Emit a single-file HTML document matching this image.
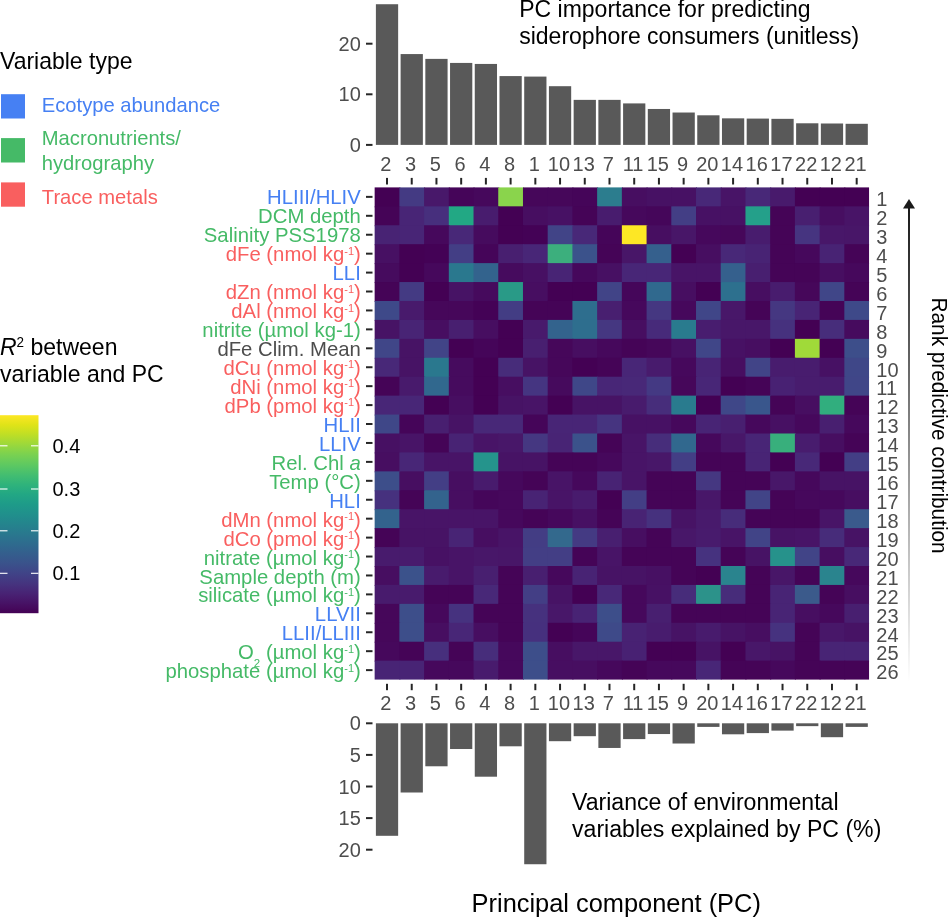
<!DOCTYPE html><html><head><meta charset="utf-8"><style>html,body{margin:0;padding:0;background:#fff;width:948px;height:918px;overflow:hidden}svg{display:block;will-change:transform}text{font-family:"Liberation Sans",sans-serif}</style></head><body>
<svg width="948" height="918" viewBox="0 0 948 918">
<g>
<rect x="374.65" y="187.40" width="25.72" height="19.93" fill="#440154"/>
<rect x="399.37" y="187.40" width="25.72" height="19.93" fill="#443A83"/>
<rect x="424.09" y="187.40" width="25.72" height="19.93" fill="#48186A"/>
<rect x="448.81" y="187.40" width="25.72" height="19.93" fill="#450559"/>
<rect x="473.53" y="187.40" width="25.72" height="19.93" fill="#46085C"/>
<rect x="498.25" y="187.40" width="25.72" height="19.93" fill="#8AD44C"/>
<rect x="522.97" y="187.40" width="25.72" height="19.93" fill="#46075A"/>
<rect x="547.69" y="187.40" width="25.72" height="19.93" fill="#46075A"/>
<rect x="572.41" y="187.40" width="25.72" height="19.93" fill="#450559"/>
<rect x="597.13" y="187.40" width="25.72" height="19.93" fill="#2C7D8E"/>
<rect x="621.85" y="187.40" width="25.72" height="19.93" fill="#470E61"/>
<rect x="646.57" y="187.40" width="25.72" height="19.93" fill="#471164"/>
<rect x="671.29" y="187.40" width="25.72" height="19.93" fill="#471164"/>
<rect x="696.01" y="187.40" width="25.72" height="19.93" fill="#482878"/>
<rect x="720.73" y="187.40" width="25.72" height="19.93" fill="#481467"/>
<rect x="745.45" y="187.40" width="25.72" height="19.93" fill="#482878"/>
<rect x="770.17" y="187.40" width="25.72" height="19.93" fill="#481A6C"/>
<rect x="794.89" y="187.40" width="25.72" height="19.93" fill="#440154"/>
<rect x="819.61" y="187.40" width="25.72" height="19.93" fill="#440154"/>
<rect x="844.33" y="187.40" width="24.72" height="19.93" fill="#440154"/>
<rect x="374.65" y="206.33" width="25.72" height="19.93" fill="#450457"/>
<rect x="399.37" y="206.33" width="25.72" height="19.93" fill="#482576"/>
<rect x="424.09" y="206.33" width="25.72" height="19.93" fill="#472F7D"/>
<rect x="448.81" y="206.33" width="25.72" height="19.93" fill="#22A884"/>
<rect x="473.53" y="206.33" width="25.72" height="19.93" fill="#481C6E"/>
<rect x="498.25" y="206.33" width="25.72" height="19.93" fill="#440154"/>
<rect x="522.97" y="206.33" width="25.72" height="19.93" fill="#470E61"/>
<rect x="547.69" y="206.33" width="25.72" height="19.93" fill="#471164"/>
<rect x="572.41" y="206.33" width="25.72" height="19.93" fill="#450457"/>
<rect x="597.13" y="206.33" width="25.72" height="19.93" fill="#481C6E"/>
<rect x="621.85" y="206.33" width="25.72" height="19.93" fill="#46085C"/>
<rect x="646.57" y="206.33" width="25.72" height="19.93" fill="#45065A"/>
<rect x="671.29" y="206.33" width="25.72" height="19.93" fill="#433E85"/>
<rect x="696.01" y="206.33" width="25.72" height="19.93" fill="#471164"/>
<rect x="720.73" y="206.33" width="25.72" height="19.93" fill="#471164"/>
<rect x="745.45" y="206.33" width="25.72" height="19.93" fill="#24A08A"/>
<rect x="770.17" y="206.33" width="25.72" height="19.93" fill="#450457"/>
<rect x="794.89" y="206.33" width="25.72" height="19.93" fill="#481F70"/>
<rect x="819.61" y="206.33" width="25.72" height="19.93" fill="#470E61"/>
<rect x="844.33" y="206.33" width="24.72" height="19.93" fill="#481467"/>
<rect x="374.65" y="225.26" width="25.72" height="19.93" fill="#482374"/>
<rect x="399.37" y="225.26" width="25.72" height="19.93" fill="#482576"/>
<rect x="424.09" y="225.26" width="25.72" height="19.93" fill="#46085C"/>
<rect x="448.81" y="225.26" width="25.72" height="19.93" fill="#482878"/>
<rect x="473.53" y="225.26" width="25.72" height="19.93" fill="#460B5E"/>
<rect x="498.25" y="225.26" width="25.72" height="19.93" fill="#440154"/>
<rect x="522.97" y="225.26" width="25.72" height="19.93" fill="#440256"/>
<rect x="547.69" y="225.26" width="25.72" height="19.93" fill="#414487"/>
<rect x="572.41" y="225.26" width="25.72" height="19.93" fill="#482878"/>
<rect x="597.13" y="225.26" width="25.72" height="19.93" fill="#450559"/>
<rect x="621.85" y="225.26" width="25.72" height="19.93" fill="#FDE725"/>
<rect x="646.57" y="225.26" width="25.72" height="19.93" fill="#470E61"/>
<rect x="671.29" y="225.26" width="25.72" height="19.93" fill="#481668"/>
<rect x="696.01" y="225.26" width="25.72" height="19.93" fill="#46085C"/>
<rect x="720.73" y="225.26" width="25.72" height="19.93" fill="#46075A"/>
<rect x="745.45" y="225.26" width="25.72" height="19.93" fill="#481C6E"/>
<rect x="770.17" y="225.26" width="25.72" height="19.93" fill="#450457"/>
<rect x="794.89" y="225.26" width="25.72" height="19.93" fill="#463480"/>
<rect x="819.61" y="225.26" width="25.72" height="19.93" fill="#481769"/>
<rect x="844.33" y="225.26" width="24.72" height="19.93" fill="#481668"/>
<rect x="374.65" y="244.19" width="25.72" height="19.93" fill="#471063"/>
<rect x="399.37" y="244.19" width="25.72" height="19.93" fill="#440154"/>
<rect x="424.09" y="244.19" width="25.72" height="19.93" fill="#440256"/>
<rect x="448.81" y="244.19" width="25.72" height="19.93" fill="#433E85"/>
<rect x="473.53" y="244.19" width="25.72" height="19.93" fill="#450559"/>
<rect x="498.25" y="244.19" width="25.72" height="19.93" fill="#481F70"/>
<rect x="522.97" y="244.19" width="25.72" height="19.93" fill="#482677"/>
<rect x="547.69" y="244.19" width="25.72" height="19.93" fill="#3CAF7D"/>
<rect x="572.41" y="244.19" width="25.72" height="19.93" fill="#3B528B"/>
<rect x="597.13" y="244.19" width="25.72" height="19.93" fill="#450457"/>
<rect x="621.85" y="244.19" width="25.72" height="19.93" fill="#481668"/>
<rect x="646.57" y="244.19" width="25.72" height="19.93" fill="#35608D"/>
<rect x="671.29" y="244.19" width="25.72" height="19.93" fill="#440154"/>
<rect x="696.01" y="244.19" width="25.72" height="19.93" fill="#470E61"/>
<rect x="720.73" y="244.19" width="25.72" height="19.93" fill="#482878"/>
<rect x="745.45" y="244.19" width="25.72" height="19.93" fill="#482374"/>
<rect x="770.17" y="244.19" width="25.72" height="19.93" fill="#450457"/>
<rect x="794.89" y="244.19" width="25.72" height="19.93" fill="#46085C"/>
<rect x="819.61" y="244.19" width="25.72" height="19.93" fill="#482374"/>
<rect x="844.33" y="244.19" width="24.72" height="19.93" fill="#450457"/>
<rect x="374.65" y="263.12" width="25.72" height="19.93" fill="#460B5E"/>
<rect x="399.37" y="263.12" width="25.72" height="19.93" fill="#440154"/>
<rect x="424.09" y="263.12" width="25.72" height="19.93" fill="#46085C"/>
<rect x="448.81" y="263.12" width="25.72" height="19.93" fill="#2A788E"/>
<rect x="473.53" y="263.12" width="25.72" height="19.93" fill="#33638D"/>
<rect x="498.25" y="263.12" width="25.72" height="19.93" fill="#460B5E"/>
<rect x="522.97" y="263.12" width="25.72" height="19.93" fill="#471063"/>
<rect x="547.69" y="263.12" width="25.72" height="19.93" fill="#482475"/>
<rect x="572.41" y="263.12" width="25.72" height="19.93" fill="#46085C"/>
<rect x="597.13" y="263.12" width="25.72" height="19.93" fill="#471063"/>
<rect x="621.85" y="263.12" width="25.72" height="19.93" fill="#482677"/>
<rect x="646.57" y="263.12" width="25.72" height="19.93" fill="#482677"/>
<rect x="671.29" y="263.12" width="25.72" height="19.93" fill="#481467"/>
<rect x="696.01" y="263.12" width="25.72" height="19.93" fill="#481467"/>
<rect x="720.73" y="263.12" width="25.72" height="19.93" fill="#35608D"/>
<rect x="745.45" y="263.12" width="25.72" height="19.93" fill="#481F70"/>
<rect x="770.17" y="263.12" width="25.72" height="19.93" fill="#450457"/>
<rect x="794.89" y="263.12" width="25.72" height="19.93" fill="#450457"/>
<rect x="819.61" y="263.12" width="25.72" height="19.93" fill="#470E61"/>
<rect x="844.33" y="263.12" width="24.72" height="19.93" fill="#46085C"/>
<rect x="374.65" y="282.05" width="25.72" height="19.93" fill="#450457"/>
<rect x="399.37" y="282.05" width="25.72" height="19.93" fill="#443A83"/>
<rect x="424.09" y="282.05" width="25.72" height="19.93" fill="#440154"/>
<rect x="448.81" y="282.05" width="25.72" height="19.93" fill="#471365"/>
<rect x="473.53" y="282.05" width="25.72" height="19.93" fill="#460A5D"/>
<rect x="498.25" y="282.05" width="25.72" height="19.93" fill="#299A87"/>
<rect x="522.97" y="282.05" width="25.72" height="19.93" fill="#470E61"/>
<rect x="547.69" y="282.05" width="25.72" height="19.93" fill="#440154"/>
<rect x="572.41" y="282.05" width="25.72" height="19.93" fill="#440154"/>
<rect x="597.13" y="282.05" width="25.72" height="19.93" fill="#414487"/>
<rect x="621.85" y="282.05" width="25.72" height="19.93" fill="#45065A"/>
<rect x="646.57" y="282.05" width="25.72" height="19.93" fill="#30698E"/>
<rect x="671.29" y="282.05" width="25.72" height="19.93" fill="#470E61"/>
<rect x="696.01" y="282.05" width="25.72" height="19.93" fill="#440154"/>
<rect x="720.73" y="282.05" width="25.72" height="19.93" fill="#2D708E"/>
<rect x="745.45" y="282.05" width="25.72" height="19.93" fill="#470E61"/>
<rect x="770.17" y="282.05" width="25.72" height="19.93" fill="#481C6E"/>
<rect x="794.89" y="282.05" width="25.72" height="19.93" fill="#46075A"/>
<rect x="819.61" y="282.05" width="25.72" height="19.93" fill="#404688"/>
<rect x="844.33" y="282.05" width="24.72" height="19.93" fill="#450457"/>
<rect x="374.65" y="300.98" width="25.72" height="19.93" fill="#3E4989"/>
<rect x="399.37" y="300.98" width="25.72" height="19.93" fill="#481A6C"/>
<rect x="424.09" y="300.98" width="25.72" height="19.93" fill="#46075A"/>
<rect x="448.81" y="300.98" width="25.72" height="19.93" fill="#46075A"/>
<rect x="473.53" y="300.98" width="25.72" height="19.93" fill="#440256"/>
<rect x="498.25" y="300.98" width="25.72" height="19.93" fill="#433D84"/>
<rect x="522.97" y="300.98" width="25.72" height="19.93" fill="#450457"/>
<rect x="547.69" y="300.98" width="25.72" height="19.93" fill="#450457"/>
<rect x="572.41" y="300.98" width="25.72" height="19.93" fill="#2E6E8E"/>
<rect x="597.13" y="300.98" width="25.72" height="19.93" fill="#481F70"/>
<rect x="621.85" y="300.98" width="25.72" height="19.93" fill="#46085C"/>
<rect x="646.57" y="300.98" width="25.72" height="19.93" fill="#453781"/>
<rect x="671.29" y="300.98" width="25.72" height="19.93" fill="#46085C"/>
<rect x="696.01" y="300.98" width="25.72" height="19.93" fill="#404688"/>
<rect x="720.73" y="300.98" width="25.72" height="19.93" fill="#481769"/>
<rect x="745.45" y="300.98" width="25.72" height="19.93" fill="#450457"/>
<rect x="770.17" y="300.98" width="25.72" height="19.93" fill="#453781"/>
<rect x="794.89" y="300.98" width="25.72" height="19.93" fill="#482475"/>
<rect x="819.61" y="300.98" width="25.72" height="19.93" fill="#450457"/>
<rect x="844.33" y="300.98" width="24.72" height="19.93" fill="#3E4989"/>
<rect x="374.65" y="319.91" width="25.72" height="19.93" fill="#471365"/>
<rect x="399.37" y="319.91" width="25.72" height="19.93" fill="#482475"/>
<rect x="424.09" y="319.91" width="25.72" height="19.93" fill="#470E61"/>
<rect x="448.81" y="319.91" width="25.72" height="19.93" fill="#481F70"/>
<rect x="473.53" y="319.91" width="25.72" height="19.93" fill="#470E61"/>
<rect x="498.25" y="319.91" width="25.72" height="19.93" fill="#440154"/>
<rect x="522.97" y="319.91" width="25.72" height="19.93" fill="#481A6C"/>
<rect x="547.69" y="319.91" width="25.72" height="19.93" fill="#33638D"/>
<rect x="572.41" y="319.91" width="25.72" height="19.93" fill="#2E6E8E"/>
<rect x="597.13" y="319.91" width="25.72" height="19.93" fill="#453781"/>
<rect x="621.85" y="319.91" width="25.72" height="19.93" fill="#470E61"/>
<rect x="646.57" y="319.91" width="25.72" height="19.93" fill="#472A7A"/>
<rect x="671.29" y="319.91" width="25.72" height="19.93" fill="#297B8E"/>
<rect x="696.01" y="319.91" width="25.72" height="19.93" fill="#481D6F"/>
<rect x="720.73" y="319.91" width="25.72" height="19.93" fill="#481769"/>
<rect x="745.45" y="319.91" width="25.72" height="19.93" fill="#481769"/>
<rect x="770.17" y="319.91" width="25.72" height="19.93" fill="#46317E"/>
<rect x="794.89" y="319.91" width="25.72" height="19.93" fill="#440154"/>
<rect x="819.61" y="319.91" width="25.72" height="19.93" fill="#472D7B"/>
<rect x="844.33" y="319.91" width="24.72" height="19.93" fill="#460B5E"/>
<rect x="374.65" y="338.84" width="25.72" height="19.93" fill="#404688"/>
<rect x="399.37" y="338.84" width="25.72" height="19.93" fill="#471365"/>
<rect x="424.09" y="338.84" width="25.72" height="19.93" fill="#414487"/>
<rect x="448.81" y="338.84" width="25.72" height="19.93" fill="#440154"/>
<rect x="473.53" y="338.84" width="25.72" height="19.93" fill="#450559"/>
<rect x="498.25" y="338.84" width="25.72" height="19.93" fill="#440154"/>
<rect x="522.97" y="338.84" width="25.72" height="19.93" fill="#481F70"/>
<rect x="547.69" y="338.84" width="25.72" height="19.93" fill="#46075A"/>
<rect x="572.41" y="338.84" width="25.72" height="19.93" fill="#470E61"/>
<rect x="597.13" y="338.84" width="25.72" height="19.93" fill="#46085C"/>
<rect x="621.85" y="338.84" width="25.72" height="19.93" fill="#450457"/>
<rect x="646.57" y="338.84" width="25.72" height="19.93" fill="#46075A"/>
<rect x="671.29" y="338.84" width="25.72" height="19.93" fill="#471063"/>
<rect x="696.01" y="338.84" width="25.72" height="19.93" fill="#404688"/>
<rect x="720.73" y="338.84" width="25.72" height="19.93" fill="#471164"/>
<rect x="745.45" y="338.84" width="25.72" height="19.93" fill="#470E61"/>
<rect x="770.17" y="338.84" width="25.72" height="19.93" fill="#440154"/>
<rect x="794.89" y="338.84" width="25.72" height="19.93" fill="#A0DA39"/>
<rect x="819.61" y="338.84" width="25.72" height="19.93" fill="#440154"/>
<rect x="844.33" y="338.84" width="24.72" height="19.93" fill="#3D4E8A"/>
<rect x="374.65" y="357.77" width="25.72" height="19.93" fill="#482878"/>
<rect x="399.37" y="357.77" width="25.72" height="19.93" fill="#471365"/>
<rect x="424.09" y="357.77" width="25.72" height="19.93" fill="#2A788E"/>
<rect x="448.81" y="357.77" width="25.72" height="19.93" fill="#460B5E"/>
<rect x="473.53" y="357.77" width="25.72" height="19.93" fill="#440154"/>
<rect x="498.25" y="357.77" width="25.72" height="19.93" fill="#472C7A"/>
<rect x="522.97" y="357.77" width="25.72" height="19.93" fill="#471365"/>
<rect x="547.69" y="357.77" width="25.72" height="19.93" fill="#46075A"/>
<rect x="572.41" y="357.77" width="25.72" height="19.93" fill="#440154"/>
<rect x="597.13" y="357.77" width="25.72" height="19.93" fill="#450457"/>
<rect x="621.85" y="357.77" width="25.72" height="19.93" fill="#482677"/>
<rect x="646.57" y="357.77" width="25.72" height="19.93" fill="#481B6D"/>
<rect x="671.29" y="357.77" width="25.72" height="19.93" fill="#46085C"/>
<rect x="696.01" y="357.77" width="25.72" height="19.93" fill="#482475"/>
<rect x="720.73" y="357.77" width="25.72" height="19.93" fill="#470E61"/>
<rect x="745.45" y="357.77" width="25.72" height="19.93" fill="#414487"/>
<rect x="770.17" y="357.77" width="25.72" height="19.93" fill="#481C6E"/>
<rect x="794.89" y="357.77" width="25.72" height="19.93" fill="#481C6E"/>
<rect x="819.61" y="357.77" width="25.72" height="19.93" fill="#471164"/>
<rect x="844.33" y="357.77" width="24.72" height="19.93" fill="#3F4788"/>
<rect x="374.65" y="376.70" width="25.72" height="19.93" fill="#450457"/>
<rect x="399.37" y="376.70" width="25.72" height="19.93" fill="#481A6C"/>
<rect x="424.09" y="376.70" width="25.72" height="19.93" fill="#31688E"/>
<rect x="448.81" y="376.70" width="25.72" height="19.93" fill="#460B5E"/>
<rect x="473.53" y="376.70" width="25.72" height="19.93" fill="#440154"/>
<rect x="498.25" y="376.70" width="25.72" height="19.93" fill="#470E61"/>
<rect x="522.97" y="376.70" width="25.72" height="19.93" fill="#453581"/>
<rect x="547.69" y="376.70" width="25.72" height="19.93" fill="#460A5D"/>
<rect x="572.41" y="376.70" width="25.72" height="19.93" fill="#3F4788"/>
<rect x="597.13" y="376.70" width="25.72" height="19.93" fill="#482677"/>
<rect x="621.85" y="376.70" width="25.72" height="19.93" fill="#482878"/>
<rect x="646.57" y="376.70" width="25.72" height="19.93" fill="#443983"/>
<rect x="671.29" y="376.70" width="25.72" height="19.93" fill="#46075A"/>
<rect x="696.01" y="376.70" width="25.72" height="19.93" fill="#482677"/>
<rect x="720.73" y="376.70" width="25.72" height="19.93" fill="#440154"/>
<rect x="745.45" y="376.70" width="25.72" height="19.93" fill="#450457"/>
<rect x="770.17" y="376.70" width="25.72" height="19.93" fill="#482173"/>
<rect x="794.89" y="376.70" width="25.72" height="19.93" fill="#481C6E"/>
<rect x="819.61" y="376.70" width="25.72" height="19.93" fill="#481C6E"/>
<rect x="844.33" y="376.70" width="24.72" height="19.93" fill="#404688"/>
<rect x="374.65" y="395.63" width="25.72" height="19.93" fill="#482677"/>
<rect x="399.37" y="395.63" width="25.72" height="19.93" fill="#482677"/>
<rect x="424.09" y="395.63" width="25.72" height="19.93" fill="#440154"/>
<rect x="448.81" y="395.63" width="25.72" height="19.93" fill="#470E61"/>
<rect x="473.53" y="395.63" width="25.72" height="19.93" fill="#440154"/>
<rect x="498.25" y="395.63" width="25.72" height="19.93" fill="#471365"/>
<rect x="522.97" y="395.63" width="25.72" height="19.93" fill="#481467"/>
<rect x="547.69" y="395.63" width="25.72" height="19.93" fill="#440154"/>
<rect x="572.41" y="395.63" width="25.72" height="19.93" fill="#471365"/>
<rect x="597.13" y="395.63" width="25.72" height="19.93" fill="#471365"/>
<rect x="621.85" y="395.63" width="25.72" height="19.93" fill="#481B6D"/>
<rect x="646.57" y="395.63" width="25.72" height="19.93" fill="#472D7B"/>
<rect x="671.29" y="395.63" width="25.72" height="19.93" fill="#297B8E"/>
<rect x="696.01" y="395.63" width="25.72" height="19.93" fill="#440154"/>
<rect x="720.73" y="395.63" width="25.72" height="19.93" fill="#3F4788"/>
<rect x="745.45" y="395.63" width="25.72" height="19.93" fill="#39568C"/>
<rect x="770.17" y="395.63" width="25.72" height="19.93" fill="#450457"/>
<rect x="794.89" y="395.63" width="25.72" height="19.93" fill="#470E61"/>
<rect x="819.61" y="395.63" width="25.72" height="19.93" fill="#31AE7E"/>
<rect x="844.33" y="395.63" width="24.72" height="19.93" fill="#450457"/>
<rect x="374.65" y="414.56" width="25.72" height="19.93" fill="#3F4788"/>
<rect x="399.37" y="414.56" width="25.72" height="19.93" fill="#450559"/>
<rect x="424.09" y="414.56" width="25.72" height="19.93" fill="#481F70"/>
<rect x="448.81" y="414.56" width="25.72" height="19.93" fill="#471365"/>
<rect x="473.53" y="414.56" width="25.72" height="19.93" fill="#482878"/>
<rect x="498.25" y="414.56" width="25.72" height="19.93" fill="#482878"/>
<rect x="522.97" y="414.56" width="25.72" height="19.93" fill="#450559"/>
<rect x="547.69" y="414.56" width="25.72" height="19.93" fill="#482576"/>
<rect x="572.41" y="414.56" width="25.72" height="19.93" fill="#482576"/>
<rect x="597.13" y="414.56" width="25.72" height="19.93" fill="#463480"/>
<rect x="621.85" y="414.56" width="25.72" height="19.93" fill="#471164"/>
<rect x="646.57" y="414.56" width="25.72" height="19.93" fill="#471164"/>
<rect x="671.29" y="414.56" width="25.72" height="19.93" fill="#46085C"/>
<rect x="696.01" y="414.56" width="25.72" height="19.93" fill="#482475"/>
<rect x="720.73" y="414.56" width="25.72" height="19.93" fill="#481F70"/>
<rect x="745.45" y="414.56" width="25.72" height="19.93" fill="#46085C"/>
<rect x="770.17" y="414.56" width="25.72" height="19.93" fill="#471063"/>
<rect x="794.89" y="414.56" width="25.72" height="19.93" fill="#46085C"/>
<rect x="819.61" y="414.56" width="25.72" height="19.93" fill="#481F70"/>
<rect x="844.33" y="414.56" width="24.72" height="19.93" fill="#46085C"/>
<rect x="374.65" y="433.49" width="25.72" height="19.93" fill="#471063"/>
<rect x="399.37" y="433.49" width="25.72" height="19.93" fill="#481467"/>
<rect x="424.09" y="433.49" width="25.72" height="19.93" fill="#450457"/>
<rect x="448.81" y="433.49" width="25.72" height="19.93" fill="#482374"/>
<rect x="473.53" y="433.49" width="25.72" height="19.93" fill="#481467"/>
<rect x="498.25" y="433.49" width="25.72" height="19.93" fill="#481769"/>
<rect x="522.97" y="433.49" width="25.72" height="19.93" fill="#453781"/>
<rect x="547.69" y="433.49" width="25.72" height="19.93" fill="#482475"/>
<rect x="572.41" y="433.49" width="25.72" height="19.93" fill="#3B528B"/>
<rect x="597.13" y="433.49" width="25.72" height="19.93" fill="#450457"/>
<rect x="621.85" y="433.49" width="25.72" height="19.93" fill="#481467"/>
<rect x="646.57" y="433.49" width="25.72" height="19.93" fill="#472D7B"/>
<rect x="671.29" y="433.49" width="25.72" height="19.93" fill="#31688E"/>
<rect x="696.01" y="433.49" width="25.72" height="19.93" fill="#46085C"/>
<rect x="720.73" y="433.49" width="25.72" height="19.93" fill="#481769"/>
<rect x="745.45" y="433.49" width="25.72" height="19.93" fill="#482576"/>
<rect x="770.17" y="433.49" width="25.72" height="19.93" fill="#38AF7C"/>
<rect x="794.89" y="433.49" width="25.72" height="19.93" fill="#481C6E"/>
<rect x="819.61" y="433.49" width="25.72" height="19.93" fill="#470E61"/>
<rect x="844.33" y="433.49" width="24.72" height="19.93" fill="#450457"/>
<rect x="374.65" y="452.42" width="25.72" height="19.93" fill="#470E61"/>
<rect x="399.37" y="452.42" width="25.72" height="19.93" fill="#482677"/>
<rect x="424.09" y="452.42" width="25.72" height="19.93" fill="#481467"/>
<rect x="448.81" y="452.42" width="25.72" height="19.93" fill="#481467"/>
<rect x="473.53" y="452.42" width="25.72" height="19.93" fill="#25948C"/>
<rect x="498.25" y="452.42" width="25.72" height="19.93" fill="#471365"/>
<rect x="522.97" y="452.42" width="25.72" height="19.93" fill="#471365"/>
<rect x="547.69" y="452.42" width="25.72" height="19.93" fill="#450457"/>
<rect x="572.41" y="452.42" width="25.72" height="19.93" fill="#450457"/>
<rect x="597.13" y="452.42" width="25.72" height="19.93" fill="#46085C"/>
<rect x="621.85" y="452.42" width="25.72" height="19.93" fill="#481467"/>
<rect x="646.57" y="452.42" width="25.72" height="19.93" fill="#481769"/>
<rect x="671.29" y="452.42" width="25.72" height="19.93" fill="#433E85"/>
<rect x="696.01" y="452.42" width="25.72" height="19.93" fill="#450457"/>
<rect x="720.73" y="452.42" width="25.72" height="19.93" fill="#450457"/>
<rect x="745.45" y="452.42" width="25.72" height="19.93" fill="#482475"/>
<rect x="770.17" y="452.42" width="25.72" height="19.93" fill="#440154"/>
<rect x="794.89" y="452.42" width="25.72" height="19.93" fill="#482878"/>
<rect x="819.61" y="452.42" width="25.72" height="19.93" fill="#440154"/>
<rect x="844.33" y="452.42" width="24.72" height="19.93" fill="#433E85"/>
<rect x="374.65" y="471.35" width="25.72" height="19.93" fill="#3D4E8A"/>
<rect x="399.37" y="471.35" width="25.72" height="19.93" fill="#470E61"/>
<rect x="424.09" y="471.35" width="25.72" height="19.93" fill="#433E85"/>
<rect x="448.81" y="471.35" width="25.72" height="19.93" fill="#470E61"/>
<rect x="473.53" y="471.35" width="25.72" height="19.93" fill="#481B6D"/>
<rect x="498.25" y="471.35" width="25.72" height="19.93" fill="#46085C"/>
<rect x="522.97" y="471.35" width="25.72" height="19.93" fill="#450457"/>
<rect x="547.69" y="471.35" width="25.72" height="19.93" fill="#481467"/>
<rect x="572.41" y="471.35" width="25.72" height="19.93" fill="#46085C"/>
<rect x="597.13" y="471.35" width="25.72" height="19.93" fill="#482374"/>
<rect x="621.85" y="471.35" width="25.72" height="19.93" fill="#481467"/>
<rect x="646.57" y="471.35" width="25.72" height="19.93" fill="#450457"/>
<rect x="671.29" y="471.35" width="25.72" height="19.93" fill="#450457"/>
<rect x="696.01" y="471.35" width="25.72" height="19.93" fill="#453781"/>
<rect x="720.73" y="471.35" width="25.72" height="19.93" fill="#450457"/>
<rect x="745.45" y="471.35" width="25.72" height="19.93" fill="#450457"/>
<rect x="770.17" y="471.35" width="25.72" height="19.93" fill="#481769"/>
<rect x="794.89" y="471.35" width="25.72" height="19.93" fill="#46085C"/>
<rect x="819.61" y="471.35" width="25.72" height="19.93" fill="#471365"/>
<rect x="844.33" y="471.35" width="24.72" height="19.93" fill="#471365"/>
<rect x="374.65" y="490.28" width="25.72" height="19.93" fill="#46317E"/>
<rect x="399.37" y="490.28" width="25.72" height="19.93" fill="#450457"/>
<rect x="424.09" y="490.28" width="25.72" height="19.93" fill="#33638D"/>
<rect x="448.81" y="490.28" width="25.72" height="19.93" fill="#470E61"/>
<rect x="473.53" y="490.28" width="25.72" height="19.93" fill="#45065A"/>
<rect x="498.25" y="490.28" width="25.72" height="19.93" fill="#46085C"/>
<rect x="522.97" y="490.28" width="25.72" height="19.93" fill="#482374"/>
<rect x="547.69" y="490.28" width="25.72" height="19.93" fill="#481467"/>
<rect x="572.41" y="490.28" width="25.72" height="19.93" fill="#481B6D"/>
<rect x="597.13" y="490.28" width="25.72" height="19.93" fill="#440154"/>
<rect x="621.85" y="490.28" width="25.72" height="19.93" fill="#433E85"/>
<rect x="646.57" y="490.28" width="25.72" height="19.93" fill="#450457"/>
<rect x="671.29" y="490.28" width="25.72" height="19.93" fill="#450457"/>
<rect x="696.01" y="490.28" width="25.72" height="19.93" fill="#481769"/>
<rect x="720.73" y="490.28" width="25.72" height="19.93" fill="#450457"/>
<rect x="745.45" y="490.28" width="25.72" height="19.93" fill="#414487"/>
<rect x="770.17" y="490.28" width="25.72" height="19.93" fill="#450457"/>
<rect x="794.89" y="490.28" width="25.72" height="19.93" fill="#46085C"/>
<rect x="819.61" y="490.28" width="25.72" height="19.93" fill="#46085C"/>
<rect x="844.33" y="490.28" width="24.72" height="19.93" fill="#470E61"/>
<rect x="374.65" y="509.21" width="25.72" height="19.93" fill="#33638D"/>
<rect x="399.37" y="509.21" width="25.72" height="19.93" fill="#481467"/>
<rect x="424.09" y="509.21" width="25.72" height="19.93" fill="#481467"/>
<rect x="448.81" y="509.21" width="25.72" height="19.93" fill="#481467"/>
<rect x="473.53" y="509.21" width="25.72" height="19.93" fill="#481467"/>
<rect x="498.25" y="509.21" width="25.72" height="19.93" fill="#46085C"/>
<rect x="522.97" y="509.21" width="25.72" height="19.93" fill="#450457"/>
<rect x="547.69" y="509.21" width="25.72" height="19.93" fill="#46085C"/>
<rect x="572.41" y="509.21" width="25.72" height="19.93" fill="#471063"/>
<rect x="597.13" y="509.21" width="25.72" height="19.93" fill="#450457"/>
<rect x="621.85" y="509.21" width="25.72" height="19.93" fill="#482374"/>
<rect x="646.57" y="509.21" width="25.72" height="19.93" fill="#46317E"/>
<rect x="671.29" y="509.21" width="25.72" height="19.93" fill="#471365"/>
<rect x="696.01" y="509.21" width="25.72" height="19.93" fill="#481A6C"/>
<rect x="720.73" y="509.21" width="25.72" height="19.93" fill="#472C7A"/>
<rect x="745.45" y="509.21" width="25.72" height="19.93" fill="#450457"/>
<rect x="770.17" y="509.21" width="25.72" height="19.93" fill="#450457"/>
<rect x="794.89" y="509.21" width="25.72" height="19.93" fill="#450457"/>
<rect x="819.61" y="509.21" width="25.72" height="19.93" fill="#481467"/>
<rect x="844.33" y="509.21" width="24.72" height="19.93" fill="#3A5A8C"/>
<rect x="374.65" y="528.14" width="25.72" height="19.93" fill="#450457"/>
<rect x="399.37" y="528.14" width="25.72" height="19.93" fill="#471365"/>
<rect x="424.09" y="528.14" width="25.72" height="19.93" fill="#471365"/>
<rect x="448.81" y="528.14" width="25.72" height="19.93" fill="#482475"/>
<rect x="473.53" y="528.14" width="25.72" height="19.93" fill="#470E61"/>
<rect x="498.25" y="528.14" width="25.72" height="19.93" fill="#481467"/>
<rect x="522.97" y="528.14" width="25.72" height="19.93" fill="#433D84"/>
<rect x="547.69" y="528.14" width="25.72" height="19.93" fill="#33698D"/>
<rect x="572.41" y="528.14" width="25.72" height="19.93" fill="#443A83"/>
<rect x="597.13" y="528.14" width="25.72" height="19.93" fill="#481F70"/>
<rect x="621.85" y="528.14" width="25.72" height="19.93" fill="#470E61"/>
<rect x="646.57" y="528.14" width="25.72" height="19.93" fill="#450457"/>
<rect x="671.29" y="528.14" width="25.72" height="19.93" fill="#481769"/>
<rect x="696.01" y="528.14" width="25.72" height="19.93" fill="#481B6D"/>
<rect x="720.73" y="528.14" width="25.72" height="19.93" fill="#481467"/>
<rect x="745.45" y="528.14" width="25.72" height="19.93" fill="#414487"/>
<rect x="770.17" y="528.14" width="25.72" height="19.93" fill="#471365"/>
<rect x="794.89" y="528.14" width="25.72" height="19.93" fill="#481467"/>
<rect x="819.61" y="528.14" width="25.72" height="19.93" fill="#472C7A"/>
<rect x="844.33" y="528.14" width="24.72" height="19.93" fill="#471365"/>
<rect x="374.65" y="547.07" width="25.72" height="19.93" fill="#481B6D"/>
<rect x="399.37" y="547.07" width="25.72" height="19.93" fill="#481B6D"/>
<rect x="424.09" y="547.07" width="25.72" height="19.93" fill="#471164"/>
<rect x="448.81" y="547.07" width="25.72" height="19.93" fill="#481467"/>
<rect x="473.53" y="547.07" width="25.72" height="19.93" fill="#481769"/>
<rect x="498.25" y="547.07" width="25.72" height="19.93" fill="#481668"/>
<rect x="522.97" y="547.07" width="25.72" height="19.93" fill="#433E85"/>
<rect x="547.69" y="547.07" width="25.72" height="19.93" fill="#433E85"/>
<rect x="572.41" y="547.07" width="25.72" height="19.93" fill="#450457"/>
<rect x="597.13" y="547.07" width="25.72" height="19.93" fill="#481467"/>
<rect x="621.85" y="547.07" width="25.72" height="19.93" fill="#450457"/>
<rect x="646.57" y="547.07" width="25.72" height="19.93" fill="#450457"/>
<rect x="671.29" y="547.07" width="25.72" height="19.93" fill="#450457"/>
<rect x="696.01" y="547.07" width="25.72" height="19.93" fill="#46327F"/>
<rect x="720.73" y="547.07" width="25.72" height="19.93" fill="#450457"/>
<rect x="745.45" y="547.07" width="25.72" height="19.93" fill="#471365"/>
<rect x="770.17" y="547.07" width="25.72" height="19.93" fill="#26928B"/>
<rect x="794.89" y="547.07" width="25.72" height="19.93" fill="#414487"/>
<rect x="819.61" y="547.07" width="25.72" height="19.93" fill="#470E61"/>
<rect x="844.33" y="547.07" width="24.72" height="19.93" fill="#482878"/>
<rect x="374.65" y="566.00" width="25.72" height="19.93" fill="#470E61"/>
<rect x="399.37" y="566.00" width="25.72" height="19.93" fill="#3B528B"/>
<rect x="424.09" y="566.00" width="25.72" height="19.93" fill="#481B6D"/>
<rect x="448.81" y="566.00" width="25.72" height="19.93" fill="#481467"/>
<rect x="473.53" y="566.00" width="25.72" height="19.93" fill="#481F70"/>
<rect x="498.25" y="566.00" width="25.72" height="19.93" fill="#450457"/>
<rect x="522.97" y="566.00" width="25.72" height="19.93" fill="#481F70"/>
<rect x="547.69" y="566.00" width="25.72" height="19.93" fill="#46085C"/>
<rect x="572.41" y="566.00" width="25.72" height="19.93" fill="#482374"/>
<rect x="597.13" y="566.00" width="25.72" height="19.93" fill="#471365"/>
<rect x="621.85" y="566.00" width="25.72" height="19.93" fill="#471365"/>
<rect x="646.57" y="566.00" width="25.72" height="19.93" fill="#471063"/>
<rect x="671.29" y="566.00" width="25.72" height="19.93" fill="#450457"/>
<rect x="696.01" y="566.00" width="25.72" height="19.93" fill="#440154"/>
<rect x="720.73" y="566.00" width="25.72" height="19.93" fill="#2A848E"/>
<rect x="745.45" y="566.00" width="25.72" height="19.93" fill="#450457"/>
<rect x="770.17" y="566.00" width="25.72" height="19.93" fill="#481668"/>
<rect x="794.89" y="566.00" width="25.72" height="19.93" fill="#450457"/>
<rect x="819.61" y="566.00" width="25.72" height="19.93" fill="#2A848E"/>
<rect x="844.33" y="566.00" width="24.72" height="19.93" fill="#46085C"/>
<rect x="374.65" y="584.93" width="25.72" height="19.93" fill="#481B6D"/>
<rect x="399.37" y="584.93" width="25.72" height="19.93" fill="#481B6D"/>
<rect x="424.09" y="584.93" width="25.72" height="19.93" fill="#450457"/>
<rect x="448.81" y="584.93" width="25.72" height="19.93" fill="#450457"/>
<rect x="473.53" y="584.93" width="25.72" height="19.93" fill="#482878"/>
<rect x="498.25" y="584.93" width="25.72" height="19.93" fill="#450457"/>
<rect x="522.97" y="584.93" width="25.72" height="19.93" fill="#433E85"/>
<rect x="547.69" y="584.93" width="25.72" height="19.93" fill="#471365"/>
<rect x="572.41" y="584.93" width="25.72" height="19.93" fill="#440154"/>
<rect x="597.13" y="584.93" width="25.72" height="19.93" fill="#482878"/>
<rect x="621.85" y="584.93" width="25.72" height="19.93" fill="#46085C"/>
<rect x="646.57" y="584.93" width="25.72" height="19.93" fill="#471164"/>
<rect x="671.29" y="584.93" width="25.72" height="19.93" fill="#472C7A"/>
<rect x="696.01" y="584.93" width="25.72" height="19.93" fill="#2C928A"/>
<rect x="720.73" y="584.93" width="25.72" height="19.93" fill="#472C7A"/>
<rect x="745.45" y="584.93" width="25.72" height="19.93" fill="#450457"/>
<rect x="770.17" y="584.93" width="25.72" height="19.93" fill="#482475"/>
<rect x="794.89" y="584.93" width="25.72" height="19.93" fill="#3B5A8B"/>
<rect x="819.61" y="584.93" width="25.72" height="19.93" fill="#450457"/>
<rect x="844.33" y="584.93" width="24.72" height="19.93" fill="#470E61"/>
<rect x="374.65" y="603.86" width="25.72" height="19.93" fill="#46075A"/>
<rect x="399.37" y="603.86" width="25.72" height="19.93" fill="#3D4E8A"/>
<rect x="424.09" y="603.86" width="25.72" height="19.93" fill="#46085C"/>
<rect x="448.81" y="603.86" width="25.72" height="19.93" fill="#46327F"/>
<rect x="473.53" y="603.86" width="25.72" height="19.93" fill="#450457"/>
<rect x="498.25" y="603.86" width="25.72" height="19.93" fill="#450457"/>
<rect x="522.97" y="603.86" width="25.72" height="19.93" fill="#46317E"/>
<rect x="547.69" y="603.86" width="25.72" height="19.93" fill="#481769"/>
<rect x="572.41" y="603.86" width="25.72" height="19.93" fill="#482374"/>
<rect x="597.13" y="603.86" width="25.72" height="19.93" fill="#3D4E8A"/>
<rect x="621.85" y="603.86" width="25.72" height="19.93" fill="#46085C"/>
<rect x="646.57" y="603.86" width="25.72" height="19.93" fill="#481F70"/>
<rect x="671.29" y="603.86" width="25.72" height="19.93" fill="#450457"/>
<rect x="696.01" y="603.86" width="25.72" height="19.93" fill="#450457"/>
<rect x="720.73" y="603.86" width="25.72" height="19.93" fill="#450457"/>
<rect x="745.45" y="603.86" width="25.72" height="19.93" fill="#450457"/>
<rect x="770.17" y="603.86" width="25.72" height="19.93" fill="#482475"/>
<rect x="794.89" y="603.86" width="25.72" height="19.93" fill="#470E61"/>
<rect x="819.61" y="603.86" width="25.72" height="19.93" fill="#46085C"/>
<rect x="844.33" y="603.86" width="24.72" height="19.93" fill="#481F70"/>
<rect x="374.65" y="622.79" width="25.72" height="19.93" fill="#46075A"/>
<rect x="399.37" y="622.79" width="25.72" height="19.93" fill="#3D4E8A"/>
<rect x="424.09" y="622.79" width="25.72" height="19.93" fill="#470E61"/>
<rect x="448.81" y="622.79" width="25.72" height="19.93" fill="#482677"/>
<rect x="473.53" y="622.79" width="25.72" height="19.93" fill="#470E61"/>
<rect x="498.25" y="622.79" width="25.72" height="19.93" fill="#450457"/>
<rect x="522.97" y="622.79" width="25.72" height="19.93" fill="#46307E"/>
<rect x="547.69" y="622.79" width="25.72" height="19.93" fill="#440154"/>
<rect x="572.41" y="622.79" width="25.72" height="19.93" fill="#450559"/>
<rect x="597.13" y="622.79" width="25.72" height="19.93" fill="#3E4A89"/>
<rect x="621.85" y="622.79" width="25.72" height="19.93" fill="#482273"/>
<rect x="646.57" y="622.79" width="25.72" height="19.93" fill="#481C6E"/>
<rect x="671.29" y="622.79" width="25.72" height="19.93" fill="#471365"/>
<rect x="696.01" y="622.79" width="25.72" height="19.93" fill="#481B6D"/>
<rect x="720.73" y="622.79" width="25.72" height="19.93" fill="#471365"/>
<rect x="745.45" y="622.79" width="25.72" height="19.93" fill="#470E61"/>
<rect x="770.17" y="622.79" width="25.72" height="19.93" fill="#46327F"/>
<rect x="794.89" y="622.79" width="25.72" height="19.93" fill="#450457"/>
<rect x="819.61" y="622.79" width="25.72" height="19.93" fill="#481769"/>
<rect x="844.33" y="622.79" width="24.72" height="19.93" fill="#471365"/>
<rect x="374.65" y="641.72" width="25.72" height="19.93" fill="#46085C"/>
<rect x="399.37" y="641.72" width="25.72" height="19.93" fill="#450457"/>
<rect x="424.09" y="641.72" width="25.72" height="19.93" fill="#472F7D"/>
<rect x="448.81" y="641.72" width="25.72" height="19.93" fill="#450457"/>
<rect x="473.53" y="641.72" width="25.72" height="19.93" fill="#472D7B"/>
<rect x="498.25" y="641.72" width="25.72" height="19.93" fill="#46085C"/>
<rect x="522.97" y="641.72" width="25.72" height="19.93" fill="#3D4E8A"/>
<rect x="547.69" y="641.72" width="25.72" height="19.93" fill="#470E61"/>
<rect x="572.41" y="641.72" width="25.72" height="19.93" fill="#481769"/>
<rect x="597.13" y="641.72" width="25.72" height="19.93" fill="#481769"/>
<rect x="621.85" y="641.72" width="25.72" height="19.93" fill="#482173"/>
<rect x="646.57" y="641.72" width="25.72" height="19.93" fill="#440154"/>
<rect x="671.29" y="641.72" width="25.72" height="19.93" fill="#440154"/>
<rect x="696.01" y="641.72" width="25.72" height="19.93" fill="#471365"/>
<rect x="720.73" y="641.72" width="25.72" height="19.93" fill="#440154"/>
<rect x="745.45" y="641.72" width="25.72" height="19.93" fill="#481769"/>
<rect x="770.17" y="641.72" width="25.72" height="19.93" fill="#471365"/>
<rect x="794.89" y="641.72" width="25.72" height="19.93" fill="#450457"/>
<rect x="819.61" y="641.72" width="25.72" height="19.93" fill="#482475"/>
<rect x="844.33" y="641.72" width="24.72" height="19.93" fill="#482475"/>
<rect x="374.65" y="660.65" width="25.72" height="18.93" fill="#482475"/>
<rect x="399.37" y="660.65" width="25.72" height="18.93" fill="#482475"/>
<rect x="424.09" y="660.65" width="25.72" height="18.93" fill="#46085C"/>
<rect x="448.81" y="660.65" width="25.72" height="18.93" fill="#46085C"/>
<rect x="473.53" y="660.65" width="25.72" height="18.93" fill="#481B6D"/>
<rect x="498.25" y="660.65" width="25.72" height="18.93" fill="#46085C"/>
<rect x="522.97" y="660.65" width="25.72" height="18.93" fill="#3D4E8A"/>
<rect x="547.69" y="660.65" width="25.72" height="18.93" fill="#470E61"/>
<rect x="572.41" y="660.65" width="25.72" height="18.93" fill="#470E61"/>
<rect x="597.13" y="660.65" width="25.72" height="18.93" fill="#46085C"/>
<rect x="621.85" y="660.65" width="25.72" height="18.93" fill="#450457"/>
<rect x="646.57" y="660.65" width="25.72" height="18.93" fill="#46085C"/>
<rect x="671.29" y="660.65" width="25.72" height="18.93" fill="#46085C"/>
<rect x="696.01" y="660.65" width="25.72" height="18.93" fill="#482677"/>
<rect x="720.73" y="660.65" width="25.72" height="18.93" fill="#450457"/>
<rect x="745.45" y="660.65" width="25.72" height="18.93" fill="#450457"/>
<rect x="770.17" y="660.65" width="25.72" height="18.93" fill="#46085C"/>
<rect x="794.89" y="660.65" width="25.72" height="18.93" fill="#450457"/>
<rect x="819.61" y="660.65" width="25.72" height="18.93" fill="#450457"/>
<rect x="844.33" y="660.65" width="24.72" height="18.93" fill="#450457"/>
</g>
<rect x="375.89" y="4.23" width="22.25" height="140.67" fill="#595959"/>
<rect x="400.61" y="54.07" width="22.25" height="90.83" fill="#595959"/>
<rect x="425.33" y="58.88" width="22.25" height="86.02" fill="#595959"/>
<rect x="450.05" y="62.93" width="22.25" height="81.97" fill="#595959"/>
<rect x="474.77" y="63.94" width="22.25" height="80.96" fill="#595959"/>
<rect x="499.49" y="76.08" width="22.25" height="68.82" fill="#595959"/>
<rect x="524.21" y="76.59" width="22.25" height="68.31" fill="#595959"/>
<rect x="548.93" y="86.20" width="22.25" height="58.70" fill="#595959"/>
<rect x="573.65" y="99.87" width="22.25" height="45.03" fill="#595959"/>
<rect x="598.37" y="99.87" width="22.25" height="45.03" fill="#595959"/>
<rect x="623.09" y="103.41" width="22.25" height="41.49" fill="#595959"/>
<rect x="647.81" y="108.97" width="22.25" height="35.93" fill="#595959"/>
<rect x="672.53" y="112.52" width="22.25" height="32.38" fill="#595959"/>
<rect x="697.25" y="115.30" width="22.25" height="29.60" fill="#595959"/>
<rect x="721.97" y="118.34" width="22.25" height="26.56" fill="#595959"/>
<rect x="746.69" y="118.59" width="22.25" height="26.31" fill="#595959"/>
<rect x="771.41" y="118.84" width="22.25" height="26.06" fill="#595959"/>
<rect x="796.13" y="123.29" width="22.25" height="21.61" fill="#595959"/>
<rect x="820.85" y="123.50" width="22.25" height="21.40" fill="#595959"/>
<rect x="845.57" y="123.80" width="22.25" height="21.10" fill="#595959"/>
<rect x="375.89" y="723.30" width="22.25" height="112.50" fill="#595959"/>
<rect x="400.61" y="723.30" width="22.25" height="69.20" fill="#595959"/>
<rect x="425.33" y="723.30" width="22.25" height="42.98" fill="#595959"/>
<rect x="450.05" y="723.30" width="22.25" height="25.72" fill="#595959"/>
<rect x="474.77" y="723.30" width="22.25" height="53.40" fill="#595959"/>
<rect x="499.49" y="723.30" width="22.25" height="23.00" fill="#595959"/>
<rect x="524.21" y="723.30" width="22.25" height="140.94" fill="#595959"/>
<rect x="548.93" y="723.30" width="22.25" height="17.89" fill="#595959"/>
<rect x="573.65" y="723.30" width="22.25" height="12.89" fill="#595959"/>
<rect x="598.37" y="723.30" width="22.25" height="24.65" fill="#595959"/>
<rect x="623.09" y="723.30" width="22.25" height="15.80" fill="#595959"/>
<rect x="647.81" y="723.30" width="22.25" height="10.74" fill="#595959"/>
<rect x="672.53" y="723.30" width="22.25" height="20.22" fill="#595959"/>
<rect x="697.25" y="723.30" width="22.25" height="3.60" fill="#595959"/>
<rect x="721.97" y="723.30" width="22.25" height="11.00" fill="#595959"/>
<rect x="746.69" y="723.30" width="22.25" height="9.80" fill="#595959"/>
<rect x="771.41" y="723.30" width="22.25" height="7.33" fill="#595959"/>
<rect x="796.13" y="723.30" width="22.25" height="2.84" fill="#595959"/>
<rect x="820.85" y="723.30" width="22.25" height="13.90" fill="#595959"/>
<rect x="845.57" y="723.30" width="22.25" height="3.60" fill="#595959"/>
<line x1="366" x2="372.5" y1="144.90" y2="144.90" stroke="#262626" stroke-width="2.0"/>
<text transform="translate(360.80,151.90) scale(1,1.035)" font-size="20" fill="#4d4d4d" text-anchor="end">0</text>
<line x1="366" x2="372.5" y1="94.30" y2="94.30" stroke="#262626" stroke-width="2.0"/>
<text transform="translate(360.80,101.30) scale(1,1.035)" font-size="20" fill="#4d4d4d" text-anchor="end">10</text>
<line x1="366" x2="372.5" y1="43.70" y2="43.70" stroke="#262626" stroke-width="2.0"/>
<text transform="translate(360.80,50.70) scale(1,1.035)" font-size="20" fill="#4d4d4d" text-anchor="end">20</text>
<line x1="366" x2="372.5" y1="723.30" y2="723.30" stroke="#262626" stroke-width="2.0"/>
<text transform="translate(360.80,730.30) scale(1,1.035)" font-size="20" fill="#4d4d4d" text-anchor="end">0</text>
<line x1="366" x2="372.5" y1="754.90" y2="754.90" stroke="#262626" stroke-width="2.0"/>
<text transform="translate(360.80,761.90) scale(1,1.035)" font-size="20" fill="#4d4d4d" text-anchor="end">5</text>
<line x1="366" x2="372.5" y1="786.50" y2="786.50" stroke="#262626" stroke-width="2.0"/>
<text transform="translate(360.80,793.50) scale(1,1.035)" font-size="20" fill="#4d4d4d" text-anchor="end">10</text>
<line x1="366" x2="372.5" y1="818.10" y2="818.10" stroke="#262626" stroke-width="2.0"/>
<text transform="translate(360.80,825.10) scale(1,1.035)" font-size="20" fill="#4d4d4d" text-anchor="end">15</text>
<line x1="366" x2="372.5" y1="849.70" y2="849.70" stroke="#262626" stroke-width="2.0"/>
<text transform="translate(360.80,856.70) scale(1,1.035)" font-size="20" fill="#4d4d4d" text-anchor="end">20</text>
<line x1="387.01" x2="387.01" y1="177.9" y2="184.5" stroke="#262626" stroke-width="2.0"/>
<text transform="translate(385.91,171.30) scale(1,1.035)" font-size="20" fill="#4d4d4d" text-anchor="middle">2</text>
<line x1="387.01" x2="387.01" y1="683.8" y2="690.2" stroke="#262626" stroke-width="2.0"/>
<text transform="translate(385.91,709.90) scale(1,1.035)" font-size="20" fill="#4d4d4d" text-anchor="middle">2</text>
<line x1="411.73" x2="411.73" y1="177.9" y2="184.5" stroke="#262626" stroke-width="2.0"/>
<text transform="translate(410.63,171.30) scale(1,1.035)" font-size="20" fill="#4d4d4d" text-anchor="middle">3</text>
<line x1="411.73" x2="411.73" y1="683.8" y2="690.2" stroke="#262626" stroke-width="2.0"/>
<text transform="translate(410.63,709.90) scale(1,1.035)" font-size="20" fill="#4d4d4d" text-anchor="middle">3</text>
<line x1="436.45" x2="436.45" y1="177.9" y2="184.5" stroke="#262626" stroke-width="2.0"/>
<text transform="translate(435.35,171.30) scale(1,1.035)" font-size="20" fill="#4d4d4d" text-anchor="middle">5</text>
<line x1="436.45" x2="436.45" y1="683.8" y2="690.2" stroke="#262626" stroke-width="2.0"/>
<text transform="translate(435.35,709.90) scale(1,1.035)" font-size="20" fill="#4d4d4d" text-anchor="middle">5</text>
<line x1="461.17" x2="461.17" y1="177.9" y2="184.5" stroke="#262626" stroke-width="2.0"/>
<text transform="translate(460.07,171.30) scale(1,1.035)" font-size="20" fill="#4d4d4d" text-anchor="middle">6</text>
<line x1="461.17" x2="461.17" y1="683.8" y2="690.2" stroke="#262626" stroke-width="2.0"/>
<text transform="translate(460.07,709.90) scale(1,1.035)" font-size="20" fill="#4d4d4d" text-anchor="middle">6</text>
<line x1="485.89" x2="485.89" y1="177.9" y2="184.5" stroke="#262626" stroke-width="2.0"/>
<text transform="translate(484.79,171.30) scale(1,1.035)" font-size="20" fill="#4d4d4d" text-anchor="middle">4</text>
<line x1="485.89" x2="485.89" y1="683.8" y2="690.2" stroke="#262626" stroke-width="2.0"/>
<text transform="translate(484.79,709.90) scale(1,1.035)" font-size="20" fill="#4d4d4d" text-anchor="middle">4</text>
<line x1="510.61" x2="510.61" y1="177.9" y2="184.5" stroke="#262626" stroke-width="2.0"/>
<text transform="translate(509.51,171.30) scale(1,1.035)" font-size="20" fill="#4d4d4d" text-anchor="middle">8</text>
<line x1="510.61" x2="510.61" y1="683.8" y2="690.2" stroke="#262626" stroke-width="2.0"/>
<text transform="translate(509.51,709.90) scale(1,1.035)" font-size="20" fill="#4d4d4d" text-anchor="middle">8</text>
<line x1="535.33" x2="535.33" y1="177.9" y2="184.5" stroke="#262626" stroke-width="2.0"/>
<text transform="translate(534.23,171.30) scale(1,1.035)" font-size="20" fill="#4d4d4d" text-anchor="middle">1</text>
<line x1="535.33" x2="535.33" y1="683.8" y2="690.2" stroke="#262626" stroke-width="2.0"/>
<text transform="translate(534.23,709.90) scale(1,1.035)" font-size="20" fill="#4d4d4d" text-anchor="middle">1</text>
<line x1="560.05" x2="560.05" y1="177.9" y2="184.5" stroke="#262626" stroke-width="2.0"/>
<text transform="translate(558.95,171.30) scale(1,1.035)" font-size="20" fill="#4d4d4d" text-anchor="middle">10</text>
<line x1="560.05" x2="560.05" y1="683.8" y2="690.2" stroke="#262626" stroke-width="2.0"/>
<text transform="translate(558.95,709.90) scale(1,1.035)" font-size="20" fill="#4d4d4d" text-anchor="middle">10</text>
<line x1="584.77" x2="584.77" y1="177.9" y2="184.5" stroke="#262626" stroke-width="2.0"/>
<text transform="translate(583.67,171.30) scale(1,1.035)" font-size="20" fill="#4d4d4d" text-anchor="middle">13</text>
<line x1="584.77" x2="584.77" y1="683.8" y2="690.2" stroke="#262626" stroke-width="2.0"/>
<text transform="translate(583.67,709.90) scale(1,1.035)" font-size="20" fill="#4d4d4d" text-anchor="middle">13</text>
<line x1="609.49" x2="609.49" y1="177.9" y2="184.5" stroke="#262626" stroke-width="2.0"/>
<text transform="translate(608.39,171.30) scale(1,1.035)" font-size="20" fill="#4d4d4d" text-anchor="middle">7</text>
<line x1="609.49" x2="609.49" y1="683.8" y2="690.2" stroke="#262626" stroke-width="2.0"/>
<text transform="translate(608.39,709.90) scale(1,1.035)" font-size="20" fill="#4d4d4d" text-anchor="middle">7</text>
<line x1="634.21" x2="634.21" y1="177.9" y2="184.5" stroke="#262626" stroke-width="2.0"/>
<text transform="translate(633.11,171.30) scale(1,1.035)" font-size="20" fill="#4d4d4d" text-anchor="middle">11</text>
<line x1="634.21" x2="634.21" y1="683.8" y2="690.2" stroke="#262626" stroke-width="2.0"/>
<text transform="translate(633.11,709.90) scale(1,1.035)" font-size="20" fill="#4d4d4d" text-anchor="middle">11</text>
<line x1="658.93" x2="658.93" y1="177.9" y2="184.5" stroke="#262626" stroke-width="2.0"/>
<text transform="translate(657.83,171.30) scale(1,1.035)" font-size="20" fill="#4d4d4d" text-anchor="middle">15</text>
<line x1="658.93" x2="658.93" y1="683.8" y2="690.2" stroke="#262626" stroke-width="2.0"/>
<text transform="translate(657.83,709.90) scale(1,1.035)" font-size="20" fill="#4d4d4d" text-anchor="middle">15</text>
<line x1="683.65" x2="683.65" y1="177.9" y2="184.5" stroke="#262626" stroke-width="2.0"/>
<text transform="translate(682.55,171.30) scale(1,1.035)" font-size="20" fill="#4d4d4d" text-anchor="middle">9</text>
<line x1="683.65" x2="683.65" y1="683.8" y2="690.2" stroke="#262626" stroke-width="2.0"/>
<text transform="translate(682.55,709.90) scale(1,1.035)" font-size="20" fill="#4d4d4d" text-anchor="middle">9</text>
<line x1="708.37" x2="708.37" y1="177.9" y2="184.5" stroke="#262626" stroke-width="2.0"/>
<text transform="translate(707.27,171.30) scale(1,1.035)" font-size="20" fill="#4d4d4d" text-anchor="middle">20</text>
<line x1="708.37" x2="708.37" y1="683.8" y2="690.2" stroke="#262626" stroke-width="2.0"/>
<text transform="translate(707.27,709.90) scale(1,1.035)" font-size="20" fill="#4d4d4d" text-anchor="middle">20</text>
<line x1="733.09" x2="733.09" y1="177.9" y2="184.5" stroke="#262626" stroke-width="2.0"/>
<text transform="translate(731.99,171.30) scale(1,1.035)" font-size="20" fill="#4d4d4d" text-anchor="middle">14</text>
<line x1="733.09" x2="733.09" y1="683.8" y2="690.2" stroke="#262626" stroke-width="2.0"/>
<text transform="translate(731.99,709.90) scale(1,1.035)" font-size="20" fill="#4d4d4d" text-anchor="middle">14</text>
<line x1="757.81" x2="757.81" y1="177.9" y2="184.5" stroke="#262626" stroke-width="2.0"/>
<text transform="translate(756.71,171.30) scale(1,1.035)" font-size="20" fill="#4d4d4d" text-anchor="middle">16</text>
<line x1="757.81" x2="757.81" y1="683.8" y2="690.2" stroke="#262626" stroke-width="2.0"/>
<text transform="translate(756.71,709.90) scale(1,1.035)" font-size="20" fill="#4d4d4d" text-anchor="middle">16</text>
<line x1="782.53" x2="782.53" y1="177.9" y2="184.5" stroke="#262626" stroke-width="2.0"/>
<text transform="translate(781.43,171.30) scale(1,1.035)" font-size="20" fill="#4d4d4d" text-anchor="middle">17</text>
<line x1="782.53" x2="782.53" y1="683.8" y2="690.2" stroke="#262626" stroke-width="2.0"/>
<text transform="translate(781.43,709.90) scale(1,1.035)" font-size="20" fill="#4d4d4d" text-anchor="middle">17</text>
<line x1="807.25" x2="807.25" y1="177.9" y2="184.5" stroke="#262626" stroke-width="2.0"/>
<text transform="translate(806.15,171.30) scale(1,1.035)" font-size="20" fill="#4d4d4d" text-anchor="middle">22</text>
<line x1="807.25" x2="807.25" y1="683.8" y2="690.2" stroke="#262626" stroke-width="2.0"/>
<text transform="translate(806.15,709.90) scale(1,1.035)" font-size="20" fill="#4d4d4d" text-anchor="middle">22</text>
<line x1="831.97" x2="831.97" y1="177.9" y2="184.5" stroke="#262626" stroke-width="2.0"/>
<text transform="translate(830.87,171.30) scale(1,1.035)" font-size="20" fill="#4d4d4d" text-anchor="middle">12</text>
<line x1="831.97" x2="831.97" y1="683.8" y2="690.2" stroke="#262626" stroke-width="2.0"/>
<text transform="translate(830.87,709.90) scale(1,1.035)" font-size="20" fill="#4d4d4d" text-anchor="middle">12</text>
<line x1="856.69" x2="856.69" y1="177.9" y2="184.5" stroke="#262626" stroke-width="2.0"/>
<text transform="translate(855.59,171.30) scale(1,1.035)" font-size="20" fill="#4d4d4d" text-anchor="middle">21</text>
<line x1="856.69" x2="856.69" y1="683.8" y2="690.2" stroke="#262626" stroke-width="2.0"/>
<text transform="translate(855.59,709.90) scale(1,1.035)" font-size="20" fill="#4d4d4d" text-anchor="middle">21</text>
<line x1="366" x2="372.5" y1="196.87" y2="196.87" stroke="#262626" stroke-width="2.0"/>
<text transform="translate(360.80,204.20) scale(1,1.015)" font-size="20.33" fill="#4680f3" text-anchor="end">HLIII/HLIV</text>
<text transform="translate(876.30,206.17) scale(1,1.035)" font-size="20" fill="#4d4d4d">1</text>
<line x1="366" x2="372.5" y1="215.80" y2="215.80" stroke="#262626" stroke-width="2.0"/>
<text transform="translate(360.80,223.16) scale(1,1.015)" font-size="20.33" fill="#45ba67" text-anchor="end">DCM depth</text>
<text transform="translate(876.30,225.10) scale(1,1.035)" font-size="20" fill="#4d4d4d">2</text>
<line x1="366" x2="372.5" y1="234.73" y2="234.73" stroke="#262626" stroke-width="2.0"/>
<text transform="translate(360.80,242.13) scale(1,1.015)" font-size="20.33" fill="#45ba67" text-anchor="end">Salinity PSS1978</text>
<text transform="translate(876.30,244.03) scale(1,1.035)" font-size="20" fill="#4d4d4d">3</text>
<line x1="366" x2="372.5" y1="253.66" y2="253.66" stroke="#262626" stroke-width="2.0"/>
<text transform="translate(360.80,261.09) scale(1,1.015)" font-size="20.33" fill="#f95f5f" text-anchor="end">dFe (nmol kg<tspan dy="-6.3" font-size="11">-1</tspan><tspan dy="6.3">)</tspan></text>
<text transform="translate(876.30,262.95) scale(1,1.035)" font-size="20" fill="#4d4d4d">4</text>
<line x1="366" x2="372.5" y1="272.59" y2="272.59" stroke="#262626" stroke-width="2.0"/>
<text transform="translate(360.80,280.06) scale(1,1.015)" font-size="20.33" fill="#4680f3" text-anchor="end">LLI</text>
<text transform="translate(876.30,281.89) scale(1,1.035)" font-size="20" fill="#4d4d4d">5</text>
<line x1="366" x2="372.5" y1="291.51" y2="291.51" stroke="#262626" stroke-width="2.0"/>
<text transform="translate(360.80,299.02) scale(1,1.015)" font-size="20.33" fill="#f95f5f" text-anchor="end">dZn (nmol kg<tspan dy="-6.3" font-size="11">-1</tspan><tspan dy="6.3">)</tspan></text>
<text transform="translate(876.30,300.81) scale(1,1.035)" font-size="20" fill="#4d4d4d">6</text>
<line x1="366" x2="372.5" y1="310.44" y2="310.44" stroke="#262626" stroke-width="2.0"/>
<text transform="translate(360.80,317.99) scale(1,1.015)" font-size="20.33" fill="#f95f5f" text-anchor="end">dAl (nmol kg<tspan dy="-6.3" font-size="11">-1</tspan><tspan dy="6.3">)</tspan></text>
<text transform="translate(876.30,319.75) scale(1,1.035)" font-size="20" fill="#4d4d4d">7</text>
<line x1="366" x2="372.5" y1="329.38" y2="329.38" stroke="#262626" stroke-width="2.0"/>
<text transform="translate(360.80,336.95) scale(1,1.015)" font-size="20.33" fill="#45ba67" text-anchor="end">nitrite (µmol kg-1)</text>
<text transform="translate(876.30,338.68) scale(1,1.035)" font-size="20" fill="#4d4d4d">8</text>
<line x1="366" x2="372.5" y1="348.31" y2="348.31" stroke="#262626" stroke-width="2.0"/>
<text transform="translate(360.80,355.92) scale(1,1.015)" font-size="20.33" fill="#4d4d4d" text-anchor="end">dFe Clim. Mean</text>
<text transform="translate(876.30,357.61) scale(1,1.035)" font-size="20" fill="#4d4d4d">9</text>
<line x1="366" x2="372.5" y1="367.24" y2="367.24" stroke="#262626" stroke-width="2.0"/>
<text transform="translate(360.80,374.88) scale(1,1.015)" font-size="20.33" fill="#f95f5f" text-anchor="end">dCu (nmol kg<tspan dy="-6.3" font-size="11">-1</tspan><tspan dy="6.3">)</tspan></text>
<text transform="translate(876.30,376.54) scale(1,1.035)" font-size="20" fill="#4d4d4d">10</text>
<line x1="366" x2="372.5" y1="386.16" y2="386.16" stroke="#262626" stroke-width="2.0"/>
<text transform="translate(360.80,393.85) scale(1,1.015)" font-size="20.33" fill="#f95f5f" text-anchor="end">dNi (nmol kg<tspan dy="-6.3" font-size="11">-1</tspan><tspan dy="6.3">)</tspan></text>
<text transform="translate(876.30,395.46) scale(1,1.035)" font-size="20" fill="#4d4d4d">11</text>
<line x1="366" x2="372.5" y1="405.10" y2="405.10" stroke="#262626" stroke-width="2.0"/>
<text transform="translate(360.80,412.81) scale(1,1.015)" font-size="20.33" fill="#f95f5f" text-anchor="end">dPb (pmol kg<tspan dy="-6.3" font-size="11">-1</tspan><tspan dy="6.3">)</tspan></text>
<text transform="translate(876.30,414.40) scale(1,1.035)" font-size="20" fill="#4d4d4d">12</text>
<line x1="366" x2="372.5" y1="424.02" y2="424.02" stroke="#262626" stroke-width="2.0"/>
<text transform="translate(360.80,431.78) scale(1,1.015)" font-size="20.33" fill="#4680f3" text-anchor="end">HLII</text>
<text transform="translate(876.30,433.32) scale(1,1.035)" font-size="20" fill="#4d4d4d">13</text>
<line x1="366" x2="372.5" y1="442.96" y2="442.96" stroke="#262626" stroke-width="2.0"/>
<text transform="translate(360.80,450.75) scale(1,1.015)" font-size="20.33" fill="#4680f3" text-anchor="end">LLIV</text>
<text transform="translate(876.30,452.26) scale(1,1.035)" font-size="20" fill="#4d4d4d">14</text>
<line x1="366" x2="372.5" y1="461.88" y2="461.88" stroke="#262626" stroke-width="2.0"/>
<text transform="translate(360.80,469.71) scale(1,1.015)" font-size="20.33" fill="#45ba67" text-anchor="end">Rel. Chl <tspan font-style="italic">a</tspan></text>
<text transform="translate(876.30,471.19) scale(1,1.035)" font-size="20" fill="#4d4d4d">15</text>
<line x1="366" x2="372.5" y1="480.82" y2="480.82" stroke="#262626" stroke-width="2.0"/>
<text transform="translate(360.80,488.68) scale(1,1.015)" font-size="20.33" fill="#45ba67" text-anchor="end">Temp (°C)</text>
<text transform="translate(876.30,490.12) scale(1,1.035)" font-size="20" fill="#4d4d4d">16</text>
<line x1="366" x2="372.5" y1="499.75" y2="499.75" stroke="#262626" stroke-width="2.0"/>
<text transform="translate(360.80,507.64) scale(1,1.015)" font-size="20.33" fill="#4680f3" text-anchor="end">HLI</text>
<text transform="translate(876.30,509.05) scale(1,1.035)" font-size="20" fill="#4d4d4d">17</text>
<line x1="366" x2="372.5" y1="518.67" y2="518.67" stroke="#262626" stroke-width="2.0"/>
<text transform="translate(360.80,526.61) scale(1,1.015)" font-size="20.33" fill="#f95f5f" text-anchor="end">dMn (nmol kg<tspan dy="-6.3" font-size="11">-1</tspan><tspan dy="6.3">)</tspan></text>
<text transform="translate(876.30,527.97) scale(1,1.035)" font-size="20" fill="#4d4d4d">18</text>
<line x1="366" x2="372.5" y1="537.61" y2="537.61" stroke="#262626" stroke-width="2.0"/>
<text transform="translate(360.80,545.57) scale(1,1.015)" font-size="20.33" fill="#f95f5f" text-anchor="end">dCo (pmol kg<tspan dy="-6.3" font-size="11">-1</tspan><tspan dy="6.3">)</tspan></text>
<text transform="translate(876.30,546.90) scale(1,1.035)" font-size="20" fill="#4d4d4d">19</text>
<line x1="366" x2="372.5" y1="556.53" y2="556.53" stroke="#262626" stroke-width="2.0"/>
<text transform="translate(360.80,564.53) scale(1,1.015)" font-size="20.33" fill="#45ba67" text-anchor="end">nitrate (µmol kg<tspan dy="-6.3" font-size="11">-1</tspan><tspan dy="6.3">)</tspan></text>
<text transform="translate(876.30,565.83) scale(1,1.035)" font-size="20" fill="#4d4d4d">20</text>
<line x1="366" x2="372.5" y1="575.47" y2="575.47" stroke="#262626" stroke-width="2.0"/>
<text transform="translate(360.80,583.50) scale(1,1.015)" font-size="20.33" fill="#45ba67" text-anchor="end">Sample depth (m)</text>
<text transform="translate(876.30,584.76) scale(1,1.035)" font-size="20" fill="#4d4d4d">21</text>
<line x1="366" x2="372.5" y1="594.39" y2="594.39" stroke="#262626" stroke-width="2.0"/>
<text transform="translate(360.80,602.46) scale(1,1.015)" font-size="20.33" fill="#45ba67" text-anchor="end">silicate (µmol kg<tspan dy="-6.3" font-size="11">-1</tspan><tspan dy="6.3">)</tspan></text>
<text transform="translate(876.30,603.69) scale(1,1.035)" font-size="20" fill="#4d4d4d">22</text>
<line x1="366" x2="372.5" y1="613.33" y2="613.33" stroke="#262626" stroke-width="2.0"/>
<text transform="translate(360.80,621.43) scale(1,1.015)" font-size="20.33" fill="#4680f3" text-anchor="end">LLVII</text>
<text transform="translate(876.30,622.62) scale(1,1.035)" font-size="20" fill="#4d4d4d">23</text>
<line x1="366" x2="372.5" y1="632.25" y2="632.25" stroke="#262626" stroke-width="2.0"/>
<text transform="translate(360.80,640.39) scale(1,1.015)" font-size="20.33" fill="#4680f3" text-anchor="end">LLII/LLIII</text>
<text transform="translate(876.30,641.55) scale(1,1.035)" font-size="20" fill="#4d4d4d">24</text>
<line x1="366" x2="372.5" y1="651.18" y2="651.18" stroke="#262626" stroke-width="2.0"/>
<text transform="translate(360.80,659.36) scale(1,1.015)" font-size="20.33" fill="#45ba67" text-anchor="end">O<tspan dy="7.9" font-size="11.5">2</tspan><tspan dy="-7.9"> (µmol kg</tspan><tspan dy="-6.3" font-size="11">-1</tspan><tspan dy="6.3">)</tspan></text>
<text transform="translate(876.30,660.48) scale(1,1.035)" font-size="20" fill="#4d4d4d">25</text>
<line x1="366" x2="372.5" y1="670.12" y2="670.12" stroke="#262626" stroke-width="2.0"/>
<text transform="translate(360.80,678.33) scale(1,1.015)" font-size="20.33" fill="#45ba67" text-anchor="end">phosphate (µmol kg<tspan dy="-6.3" font-size="11">-1</tspan><tspan dy="6.3">)</tspan></text>
<text transform="translate(876.30,679.41) scale(1,1.035)" font-size="20" fill="#4d4d4d">26</text>
<defs><linearGradient id="fade" gradientUnits="userSpaceOnUse" x1="0" y1="205" x2="0" y2="682"><stop offset="0" stop-color="#000"/><stop offset="1" stop-color="#fff"/></linearGradient></defs>
<rect x="908.1" y="206" width="1.8" height="476" fill="url(#fade)"/>
<path d="M909 199 L915 208.6 L903 208.6 Z" fill="#1a1a1a"/>
<text transform="translate(932,425.6) rotate(90) scale(1,1.02)" text-anchor="middle" font-size="20.76" fill="#000">Rank predictive contribution</text>
<text transform="translate(519.20,16.70) scale(1,1.0)" font-size="23" fill="#000">PC importance for predicting</text>
<text transform="translate(519.20,44.10) scale(1,1.0)" font-size="23" fill="#000">siderophore consumers (unitless)</text>
<text transform="translate(572.00,810.10) scale(1,1.0)" font-size="23.1" fill="#000">Variance of environmental</text>
<text transform="translate(572.00,837.40) scale(1,1.0)" font-size="23.1" fill="#000">variables explained by PC (%)</text>
<text transform="translate(471.60,911.70) scale(1,1.02)" font-size="25.4" fill="#000">Principal component (PC)</text>
<text transform="translate(0.00,69.00) scale(1,1.02)" font-size="23" fill="#000">Variable type</text>
<rect x="1" y="94.2" width="24" height="24.3" fill="#4680f3"/>
<rect x="1" y="138.1" width="24" height="24.4" fill="#45ba67"/>
<rect x="1" y="182.4" width="24" height="24.3" fill="#f95f5f"/>
<text transform="translate(41.80,112.00) scale(1,1.02)" font-size="20.2" fill="#4680f3">Ecotype abundance</text>
<text transform="translate(41.80,144.80) scale(1,1.02)" font-size="20.2" fill="#45ba67">Macronutrients/</text>
<text transform="translate(41.80,169.50) scale(1,1.02)" font-size="20.2" fill="#45ba67">hydrography</text>
<text transform="translate(41.80,203.50) scale(1,1.02)" font-size="20.2" fill="#f95f5f">Trace metals</text>
<text transform="translate(0.00,354.50) scale(1,1.02)" font-size="23" fill="#000"><tspan font-style="italic">R</tspan><tspan dy="-7.6" font-size="13.5">2</tspan><tspan dy="7.6"> between</tspan></text>
<text transform="translate(0.00,382.00) scale(1,1.02)" font-size="23" fill="#000">variable and PC</text>
<defs><linearGradient id="vir" x1="0" y1="1" x2="0" y2="0">
<stop offset="0.00" stop-color="#440154"/>
<stop offset="0.05" stop-color="#471265"/>
<stop offset="0.10" stop-color="#482374"/>
<stop offset="0.15" stop-color="#45347f"/>
<stop offset="0.20" stop-color="#404387"/>
<stop offset="0.25" stop-color="#3a528b"/>
<stop offset="0.30" stop-color="#345e8d"/>
<stop offset="0.35" stop-color="#2e6b8e"/>
<stop offset="0.40" stop-color="#29788e"/>
<stop offset="0.45" stop-color="#24848d"/>
<stop offset="0.50" stop-color="#20908c"/>
<stop offset="0.55" stop-color="#1e9b89"/>
<stop offset="0.60" stop-color="#22a784"/>
<stop offset="0.65" stop-color="#2fb37b"/>
<stop offset="0.70" stop-color="#44be70"/>
<stop offset="0.75" stop-color="#5ec961"/>
<stop offset="0.80" stop-color="#79d151"/>
<stop offset="0.85" stop-color="#9ad83c"/>
<stop offset="0.90" stop-color="#bdde26"/>
<stop offset="0.95" stop-color="#dfe318"/>
<stop offset="1.00" stop-color="#fde724"/>
</linearGradient></defs>
<rect x="0" y="415.2" width="38.5" height="198" fill="url(#vir)"/>
<line x1="0" x2="7.5" y1="445.8" y2="445.8" stroke="#fff" stroke-width="1.1"/>
<line x1="31" x2="38.5" y1="445.8" y2="445.8" stroke="#fff" stroke-width="1.1"/>
<text transform="translate(52.50,452.80) scale(1,1.035)" font-size="20" fill="#000">0.4</text>
<line x1="0" x2="7.5" y1="489" y2="489" stroke="#fff" stroke-width="1.1"/>
<line x1="31" x2="38.5" y1="489" y2="489" stroke="#fff" stroke-width="1.1"/>
<text transform="translate(52.50,496.00) scale(1,1.035)" font-size="20" fill="#000">0.3</text>
<line x1="0" x2="7.5" y1="530.8" y2="530.8" stroke="#fff" stroke-width="1.1"/>
<line x1="31" x2="38.5" y1="530.8" y2="530.8" stroke="#fff" stroke-width="1.1"/>
<text transform="translate(52.50,537.80) scale(1,1.035)" font-size="20" fill="#000">0.2</text>
<line x1="0" x2="7.5" y1="573.3" y2="573.3" stroke="#fff" stroke-width="1.1"/>
<line x1="31" x2="38.5" y1="573.3" y2="573.3" stroke="#fff" stroke-width="1.1"/>
<text transform="translate(52.50,580.30) scale(1,1.035)" font-size="20" fill="#000">0.1</text>
</svg></body></html>
